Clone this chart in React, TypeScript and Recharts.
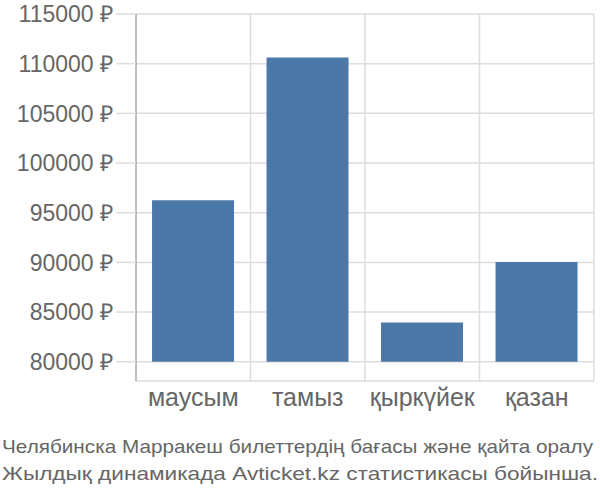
import { BarChart, Bar, XAxis, YAxis, CartesianGrid } from "recharts";

const months = ["маусым", "тамыз", "қыркүйек", "қазан"];
const prices = [96250, 110620, 83960, 90050];
const yTicks = [80000, 85000, 90000, 95000, 100000, 105000, 110000, 115000];
const baseValue = 80000;
const captionLines = [
  "Челябинска Марракеш билеттердің бағасы және қайта оралу",
  "Жылдық динамикада Avticket.kz статистикасы бойынша.",
];

const data = months.map((name, i) => ({ name, range: [baseValue, prices[i]] }));

const textColor = "#666666";
const font = "'Liberation Sans', Arial, sans-serif";

export default function App() {
  return (
    <div style={{ position: "absolute", left: 0, top: 0, width: 600, height: 500, background: "#fff" }}>
      <BarChart
        width={600}
        height={500}
        data={data}
        margin={{ top: 14, right: 6, bottom: 89, left: 0 }}
        barCategoryGap="14%"
      >
        <CartesianGrid
          stroke="#dddddd"
          strokeWidth={1.5}
          verticalCoordinatesGenerator={({ offset }: any) =>
            months.map((_, i) => offset.left + ((i + 1) * offset.width) / months.length)
          }
        />
        <XAxis
          dataKey="name"
          height={30}
          axisLine={false}
          tickLine={false}
          tickSize={0}
          tickMargin={7}
          tick={{ fill: textColor, fontSize: 25, fontFamily: font }}
        />
        <YAxis
          width={136}
          domain={[78060, 115000]}
          ticks={yTicks}
          interval={0}
          allowDataOverflow
          axisLine={{ stroke: "#aaaaaa", strokeWidth: 1.5 }}
          tickLine={{ stroke: "#dddddd", strokeWidth: 1.5 }}
          tickSize={20}
          tickMargin={3}
          tickFormatter={(v: number) => `${v} ₽`}
          tick={{ fill: textColor, fontSize: 23, fontFamily: font }}
        />
        <Bar dataKey="range" fill="#4c78a8" isAnimationActive={false} />
      </BarChart>
      <svg width={600} height={500} style={{ position: "absolute", left: 0, top: 0, pointerEvents: "none" }}>
        {captionLines.map((line, i) => (
          <text
            key={i}
            x={2}
            y={453 + i * 27}
            fill={textColor}
            fontSize={18.5}
            fontFamily={font}
            textLength={i === 0 ? 591 : 596}
            lengthAdjust="spacingAndGlyphs"
          >
            {line}
          </text>
        ))}
      </svg>
    </div>
  );
}
